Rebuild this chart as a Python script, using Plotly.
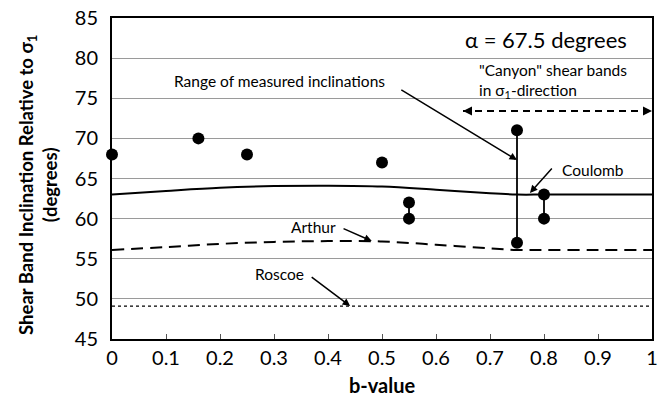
import plotly.graph_objects as go

# Measured shear band inclinations
pt_b = [0.0, 0.16, 0.25, 0.5, 0.55, 0.55, 0.75, 0.75, 0.8, 0.8]
pt_incl = [68, 70, 68, 67, 62, 60, 71, 57, 63, 60]

# Ranges connecting paired measurements
range_b = [0.55, 0.75, 0.8]
range_lo = [60, 57, 60]
range_hi = [62, 71, 63]

# Theoretical curves
curve_b = [0.0, 0.1, 0.2, 0.3, 0.4, 0.5, 0.6, 0.7, 0.75, 0.8, 0.9, 1.0]
coulomb = [63.0, 63.45, 63.85, 64.05, 64.1, 64.0, 63.6, 63.15, 63.0, 63.0, 63.0, 63.0]
arthur = [56.1, 56.45, 56.85, 57.1, 57.2, 57.15, 56.75, 56.3, 56.1, 56.1, 56.1, 56.1]
roscoe_b = [0.0, 1.0]
roscoe = [49.1, 49.1]

canyon_b = [0.65, 1.0]
canyon_y = [73.4, 73.4]

x_ticks = [0, 0.1, 0.2, 0.3, 0.4, 0.5, 0.6, 0.7, 0.8, 0.9, 1]
x_tick_labels = ["0", "0.1", "0.2", "0.3", "0.4", "0.5", "0.6", "0.7", "0.8", "0.9", "1"]
y_ticks = [45, 50, 55, 60, 65, 70, 75, 80, 85]

FONT = "Lato, 'Open Sans', sans-serif"

fig = go.Figure()

fig.add_trace(go.Scatter(x=curve_b, y=coulomb, mode="lines", line=dict(color="black", width=2, shape="spline"),
                         showlegend=False, hoverinfo="skip"))
fig.add_trace(go.Scatter(x=curve_b, y=arthur, mode="lines",
                         line=dict(color="black", width=2, dash="12px,7px", shape="spline"),
                         showlegend=False, hoverinfo="skip"))
fig.add_trace(go.Scatter(x=roscoe_b, y=roscoe, mode="lines", line=dict(color="black", width=1.2, dash="dot"),
                         showlegend=False, hoverinfo="skip"))
fig.add_trace(go.Scatter(x=canyon_b, y=canyon_y, mode="lines", line=dict(color="black", width=2, dash="7px,5px"),
                         showlegend=False, hoverinfo="skip"))

for b, lo, hi in zip(range_b, range_lo, range_hi):
    fig.add_trace(go.Scatter(x=[b, b], y=[lo, hi], mode="lines", line=dict(color="black", width=1.8),
                             showlegend=False, hoverinfo="skip"))

fig.add_trace(go.Scatter(x=pt_b, y=pt_incl, mode="markers", marker=dict(color="black", size=12),
                         showlegend=False, cliponaxis=False))

ann = []


def arrow(x, y, ax, ay, head=2):
    return dict(x=x, y=y, xref="x", yref="y", ax=ax, ay=ay, axref="x", ayref="y",
                text="", showarrow=True, arrowhead=head, arrowsize=1, arrowwidth=1.5, arrowcolor="black")


ann.append(arrow(0.75, 67.3, 0.533, 76.15))
ann.append(arrow(0.774, 63.2, 0.817, 66.43))
ann.append(arrow(0.481, 57.2, 0.426, 58.83))
ann.append(arrow(0.441, 49.1, 0.367, 52.85))
# double arrow heads
ann.append(dict(x=0.65, y=73.4, xref="x", yref="y", ax=6, ay=0, text="", showarrow=True,
                arrowhead=2, arrowsize=1, arrowwidth=1.8, arrowcolor="black"))
ann.append(dict(x=1.0, y=73.4, xref="x", yref="y", ax=-6, ay=0, text="", showarrow=True,
                arrowhead=2, arrowsize=1, arrowwidth=1.8, arrowcolor="black"))


def label(text, x, y, size=15.5, xanchor="left"):
    return dict(x=x, y=y, xref="x", yref="y", text=text, showarrow=False, xanchor=xanchor, yanchor="middle",
                font=dict(family=FONT, size=size, color="black"))


ann.append(label("Range of measured inclinations", 0.111, 77.15))
ann.append(label("Coulomb", 0.830, 66.06))
ann.append(label("Arthur", 0.328, 58.9))
ann.append(label("Roscoe", 0.261, 53.1))
ann.append(label("\"Canyon\" shear bands", 0.676, 78.5))
ann.append(label("in σ<sub>1</sub>-direction", 0.676, 75.9))
ann.append(label("α = 67.5 degrees", 0.957, 82.3, size=22, xanchor="right"))

ann.append(dict(x=-0.137, y=0.48, xref="paper", yref="paper", textangle=-90, showarrow=False,
                text="<b>Shear Band Inclination Relative to σ<sub>1</sub></b><br><b>(degrees)</b>",
                font=dict(family=FONT, size=18.5, color="black"), xanchor="center", yanchor="middle"))
ann.append(dict(x=0.5, y=-0.143, xref="paper", yref="paper", showarrow=False, text="<b>b-value</b>",
                font=dict(family=FONT, size=20, color="black"), xanchor="center", yanchor="middle"))

fig.update_layout(
    width=667, height=399,
    margin=dict(l=112, r=15, t=18, b=60, autoexpand=False),
    paper_bgcolor="white", plot_bgcolor="white",
    font=dict(family=FONT, color="black"),
    annotations=ann,
    xaxis=dict(range=[0, 1], tickvals=x_ticks, ticktext=x_tick_labels, ticks="inside", ticklen=5,
               tickcolor="#555", tickwidth=1, showgrid=False, zeroline=False,
               showline=True, linecolor="black", linewidth=2, mirror=True, automargin=False,
               tickfont=dict(family=FONT, size=20, color="black")),
    yaxis=dict(range=[45, 85], tickvals=y_ticks, ticks="", showgrid=True, gridcolor="#9a9a9a", gridwidth=1,
               zeroline=False, showline=True, linecolor="black", linewidth=2, mirror=True, automargin=False,
               tickfont=dict(family=FONT, size=20, color="black"), ticklabelstandoff=8),
)

fig.write_html("out.html", config={"displayModeBar": False},
               post_script="document.body.style.margin='0';")
